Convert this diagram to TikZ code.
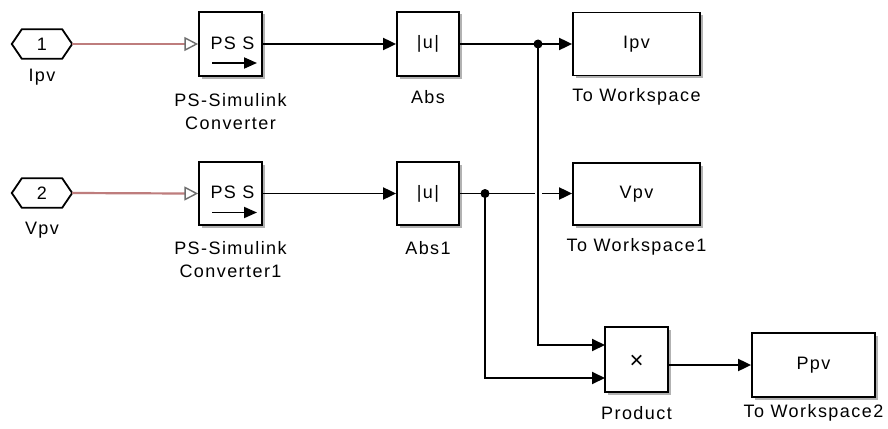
\documentclass[tikz,border=0pt]{standalone}
\usepackage{fontspec}
\setmainfont{Liberation Sans}[LetterSpace=8]
\usetikzlibrary{arrows.meta,shadows,calc}
\definecolor{physline}{RGB}{190,125,125}
\definecolor{porttri}{RGB}{110,110,110}
\tikzset{
  txt/.style={font=\fontsize{18}{23}\selectfont, inner sep=0pt},
  blk/.style={draw, line width=1.8pt, fill=white, inner sep=0pt, txt,
    drop shadow={shadow xshift=2.5pt, shadow yshift=-2.5pt, fill=black!60, opacity=0.5}},
  lbl/.style={txt, align=center},
  sig/.style={line width=1.9pt, -{Triangle[length=13pt,width=12pt]}},
  phys/.style={draw=physline, line width=2.2pt},
  inport/.style={minimum width=60pt, minimum height=29pt, inner sep=0pt, txt},
}
\begin{document}
\begin{tikzpicture}[x=1pt,y=-1pt]
\useasboundingbox[fill=white] (0,0) rectangle (888,428);

% inports (hexagon outlines drawn from node anchors)
\node[inport] (in1) at (42,44) {1};
\node[inport] (in2) at (42,193) {2};
\foreach \n in {in1,in2}{
  \draw[line width=1.8pt] (\n.west) -- ($(\n.north west)+(10,0)$) -- ($(\n.north east)+(-10,0)$)
    -- (\n.east) -- ($(\n.south east)+(-10,0)$) -- ($(\n.south west)+(10,0)$) -- cycle;
}
\node[lbl] (in1l) at (42,77) {Ipv};
\node[lbl] (in2l) at (42,230) {Vpv};

% blocks
\node[blk, minimum width=63pt, minimum height=64pt] (ps1) at (230.5,44) {};
\node[blk, minimum width=63pt, minimum height=63pt] (ps2) at (230.5,193.5) {};
\node[blk, minimum width=62pt, minimum height=64pt] (abs) at (428,44) {|u|};
\node[blk, minimum width=62pt, minimum height=63pt] (abs1) at (428,193.5) {|u|};
\node[blk, minimum width=127pt, minimum height=63pt] (tw) at (636.5,44) {Ipv};
\node[blk, minimum width=127pt, minimum height=62pt] (tw1) at (636.5,194) {Vpv};
\node[blk, minimum width=63pt, minimum height=65pt] (prod) at (636.5,359.5) {};
\node[blk, minimum width=123pt, minimum height=64pt] (tw2) at (813.5,365) {Ppv};

% block glyphs
\node[txt] (ps1t) at ($(ps1.center)+(2,-1)$) {PS S};
\node[txt] (ps2t) at ($(ps2.center)+(2,-1)$) {PS S};
\node[txt, font=\fontsize{24}{24}\selectfont] (prodt) at ($(prod.center)+(0,2)$) {×};
\foreach \n in {ps1,ps2}{
  \draw[line width=1.9pt, -{Triangle[length=13pt,width=11pt]}] ($(\n.center)+(-18.5,19)$) -- ++(45,0);
}

% block labels
\node[lbl] (ps1l) at (230.5,111.5) {PS-Simulink\\Converter};
\node[lbl] (ps2l) at (230.5,259.5) {PS-Simulink\\Converter1};
\node[lbl] (absl) at (428,97) {Abs};
\node[lbl] (abs1l) at (428,248) {Abs1};
\node[lbl] (twl) at (636.5,97) {To Workspace};
\node[lbl] (tw1l) at (636.5,247) {To Workspace1};
\node[lbl] (prodl) at (636.5,413) {Product};
\node[lbl] (tw2l) at (813.5,413) {To Workspace2};

% physical connections with open port triangles
\foreach \i/\p in {in1/ps1,in2/ps2}{
  \coordinate (\p tri) at ($(\p.west)+(-13,0)$);
  \draw[phys] (\i.east) -- (\p tri);
  \draw[porttri, line width=1.4pt, fill=white] ($(\p tri)+(0,-6)$) -- ($(\p.west)+(-1.5,0)$) -- ($(\p tri)+(0,6)$) -- cycle;
}

% junctions and product inputs
\coordinate (j1) at (538,44);
\coordinate (j2) at (485,193.5);
\coordinate (pin1) at (605,345);
\coordinate (pin2) at (605,378);

% signal lines
\draw[sig] (ps1.east) -- (abs.west);
\draw[sig] (ps2.east) -- (abs1.west);
\draw[sig] (abs.east) -- (tw.west);
\draw[sig] (abs1.east) -- (abs1.east -| tw1.west);
% line hop where the branch crosses
\draw[white, line width=4.5pt] ($(j1 |- abs1.east)+(-3.5,0)$) -- ++(7,0);
\draw[sig] (j1) |- (pin1);
\draw[sig] (j2) |- (pin2);
\draw[sig] (prod.east |- tw2.west) -- (tw2.west);
\fill (j1) circle (4.5);
\fill (j2) circle (4.5);
\end{tikzpicture}
\end{document}
